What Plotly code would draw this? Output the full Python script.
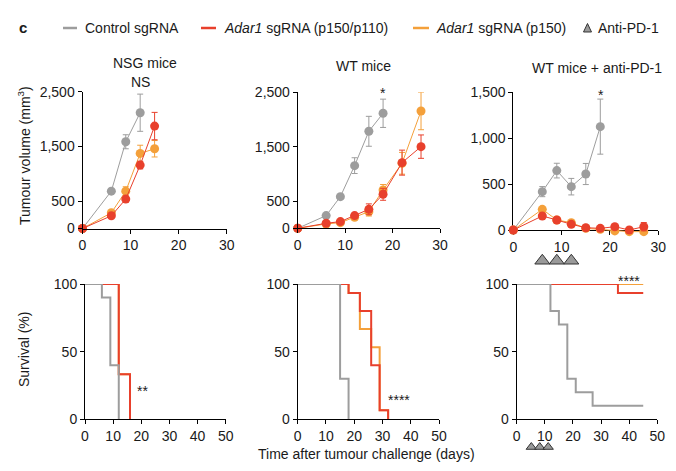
import plotly.graph_objects as go

# page has an 8px body margin: figure is 660x455 placed at (8, 8) inside 676x471
PAGE_W, PAGE_H = 676, 471
OFF = 8
W, H = PAGE_W - 2 * OFF, PAGE_H - 2 * OFF
GRAY = "#9d9d9d"
RED = "#e8402c"
ORANGE = "#f4a03a"
FONT = "Liberation Sans, Arial, sans-serif"
TXT = "#1a1a1a"

# ---------------- data ----------------
# Tumour growth: NSG mice
nsg_ctrl_days = [0, 6, 9, 12]
nsg_ctrl_vol = [0, 683, 1585, 2116]
nsg_ctrl_err = [0, 30, 128, 340]
nsg_p150p110_days = [0, 6, 9, 12, 15]
nsg_p150p110_vol = [0, 232, 537, 1159, 1872]
nsg_p150p110_err = [0, 30, 50, 70, 250]
nsg_p150_days = [0, 6, 9, 12, 15]
nsg_p150_vol = [0, 287, 683, 1372, 1457]
nsg_p150_err = [0, 30, 80, 150, 150]

# Tumour growth: WT mice
wt_ctrl_days = [0, 6, 9, 12, 15, 18]
wt_ctrl_vol = [0, 233, 582, 1152, 1783, 2114]
wt_ctrl_err = [0, 20, 30, 145, 275, 260]
wt_p150p110_days = [0, 6, 9, 12, 15, 18, 22, 26]
wt_p150p110_vol = [0, 92, 123, 233, 349, 625, 1207, 1501]
wt_p150p110_err = [0, 15, 20, 30, 100, 110, 230, 215]
wt_p150_days = [0, 6, 9, 12, 15, 18, 22, 26]
wt_p150_vol = [0, 80, 104, 202, 306, 705, 1195, 2157]
wt_p150_err = [0, 15, 20, 30, 80, 100, 200, 345]

# Tumour growth: WT mice + anti-PD-1
pd1_ctrl_days = [0, 6, 9, 12, 15, 18]
pd1_ctrl_vol = [0, 418, 647, 472, 610, 1126]
pd1_ctrl_err = [0, 55, 80, 90, 115, 300]
pd1_p150p110_days = [0, 6, 9, 12, 15, 18, 21, 24, 27]
pd1_p150p110_vol = [0, 153, 109, 62, 25, 18, 36, 0, 36]
pd1_p150p110_err = [0, 20, 15, 15, 10, 10, 20, 10, 45]
pd1_p150_days = [0, 6, 9, 12, 15, 18, 21, 24, 27]
pd1_p150_vol = [0, 225, 109, 80, 18, 7, -10, -18, -18]
pd1_p150_err = [0, 20, 15, 15, 10, 10, 10, 10, 10]
pd1_dose_days = [6, 9, 12]

# Survival (Kaplan-Meier steps): NSG
s_nsg_ctrl_t = [0, 6, 9, 12]
s_nsg_ctrl_s = [100, 90, 40, 0]
s_nsg_p150p110_t = [0, 12, 16]
s_nsg_p150p110_s = [100, 33.3, 0]
s_nsg_p150_t = [0, 12, 16]
s_nsg_p150_s = [100, 33.3, 0]

# Survival: WT
s_wt_ctrl_t = [0, 15, 18]
s_wt_ctrl_s = [100, 30, 0]
s_wt_p150p110_t = [0, 18, 22, 26, 29, 32]
s_wt_p150p110_s = [100, 93.3, 80, 40, 6.7, 0]
s_wt_p150_t = [0, 18, 22, 26, 29, 32]
s_wt_p150_s = [100, 93.3, 66.7, 53.3, 6.7, 0]

# Survival: WT + anti-PD-1
s_pd1_ctrl_t = [0, 12, 15, 18, 21, 27, 45]
s_pd1_ctrl_s = [100, 80, 70, 30, 20, 10, 10]
s_pd1_p150p110_t = [0, 36, 45]
s_pd1_p150p110_s = [100, 93.3, 93.3]
s_pd1_p150_t = [0, 45]
s_pd1_p150_s = [100, 100]

legend_labels = ["Control sgRNA", "<i>Adar1</i> sgRNA (p150/p110)",
                 "<i>Adar1</i> sgRNA (p150)", "Anti-PD-1"]

# ---------------- layout helpers (page pixel -> paper fraction) ----------------
def px(x):
    return (x - OFF) / W

def py(y):
    return 1 - (y - OFF) / H

# name: (x0, x1, ytop, ybottom) in page pixels, plus axis ranges
panels = {
    "1": (82.5, 226.7, 91.7, 228.5),
    "2": (297.7, 440.0, 92.3, 228.3),
    "3": (513.3, 658.3, 92.3, 230.0),
    "4": (85.0, 225.7, 284.0, 419.3),
    "5": (297.7, 439.0, 284.0, 419.3),
    "6": (516.7, 657.3, 284.0, 419.3),
}
specs = {
    "1": ([0, 30], [0, 10, 20, 30], [0, 2500], [0, 500, 1500, 2500], ["0", "500", "1,500", "2,500"]),
    "2": ([0, 30], [0, 10, 20, 30], [0, 2500], [0, 500, 1500, 2500], ["0", "500", "1,500", "2,500"]),
    "3": ([0, 30], [0, 10, 20, 30], [0, 1500], [0, 500, 1000, 1500], ["0", "500", "1,000", "1,500"]),
    "4": ([0, 50], [0, 10, 20, 30, 40, 50], [0, 100], [0, 50, 100], ["0", "50", "100"]),
    "5": ([0, 50], [0, 10, 20, 30, 40, 50], [0, 100], [0, 50, 100], ["0", "50", "100"]),
    "6": ([0, 50], [0, 10, 20, 30, 40, 50], [0, 100], [0, 50, 100], ["0", "50", "100"]),
}
# hidden helper subplots that share the scale of a visible panel but reach further down
# (so marks below the zero line, e.g. dosing triangles, are still drawn)
helpers = {"7": ("3", 280.0), "8": ("6", 458.0)}

def ax(axn):
    return ("x", "y") if axn == "1" else ("x" + axn, "y" + axn)

fig = go.Figure()

def growth(axn, days, vol, err, color):
    xa, ya = ax(axn)
    fig.add_trace(go.Scatter(
        x=days, y=vol, mode="lines+markers",
        line=dict(color=color, width=1),
        marker=dict(color=color, size=9, line=dict(width=0)),
        error_y=dict(type="data", array=err, color=color, thickness=1, width=3),
        xaxis=xa, yaxis=ya, cliponaxis=False, showlegend=False,
        hoverinfo="skip"))

def surv(axn, t, s, color):
    xa, ya = ax(axn)
    fig.add_trace(go.Scatter(
        x=t, y=s, mode="lines", line=dict(color=color, width=2, shape="hv"),
        xaxis=xa, yaxis=ya, cliponaxis=False, showlegend=False,
        hoverinfo="skip"))

growth("1", nsg_ctrl_days, nsg_ctrl_vol, nsg_ctrl_err, GRAY)
growth("1", nsg_p150_days, nsg_p150_vol, nsg_p150_err, ORANGE)
growth("1", nsg_p150p110_days, nsg_p150p110_vol, nsg_p150p110_err, RED)

growth("2", wt_ctrl_days, wt_ctrl_vol, wt_ctrl_err, GRAY)
growth("2", wt_p150_days, wt_p150_vol, wt_p150_err, ORANGE)
growth("2", wt_p150p110_days, wt_p150p110_vol, wt_p150p110_err, RED)

# invisible anchor trace so the visible anti-PD-1 axes are created
fig.add_trace(go.Scatter(
    x=pd1_ctrl_days[:1], y=pd1_ctrl_vol[:1], mode="markers",
    marker=dict(opacity=0, size=1), xaxis="x3", yaxis="y3",
    showlegend=False, hoverinfo="skip"))

# anti-PD-1 panel drawn on its hidden helper subplot (same scale, deeper domain)
growth("7", pd1_ctrl_days, pd1_ctrl_vol, pd1_ctrl_err, GRAY)
growth("7", pd1_p150_days, pd1_p150_vol, pd1_p150_err, ORANGE)
growth("7", pd1_p150p110_days, pd1_p150p110_vol, pd1_p150p110_err, RED)

surv("4", s_nsg_p150_t, s_nsg_p150_s, ORANGE)
surv("4", s_nsg_p150p110_t, s_nsg_p150p110_s, RED)
surv("4", s_nsg_ctrl_t, s_nsg_ctrl_s, GRAY)

surv("5", s_wt_p150_t, s_wt_p150_s, ORANGE)
surv("5", s_wt_p150p110_t, s_wt_p150p110_s, RED)
surv("5", s_wt_ctrl_t, s_wt_ctrl_s, GRAY)

surv("6", s_pd1_p150_t, s_pd1_p150_s, ORANGE)
surv("6", s_pd1_p150p110_t, s_pd1_p150p110_s, RED)
surv("6", s_pd1_ctrl_t, s_pd1_ctrl_s, GRAY)

# anti-PD-1 dosing triangles
fig.add_trace(go.Scatter(
    x=pd1_dose_days, y=[-335] * len(pd1_dose_days), mode="markers",
    marker=dict(symbol="triangle-up", size=13, color="#9a9a9a",
                line=dict(color="#333333", width=1)),
    xaxis="x7", yaxis="y7", cliponaxis=False, showlegend=False, hoverinfo="skip"))
fig.add_trace(go.Scatter(
    x=[d - 0.8 for d in pd1_dose_days], y=[-20.5] * len(pd1_dose_days), mode="markers",
    marker=dict(symbol="triangle-up", size=9, color="#9a9a9a",
                line=dict(color="#333333", width=1)),
    xaxis="x8", yaxis="y8", cliponaxis=False, showlegend=False, hoverinfo="skip"))

tickfont = dict(family=FONT, size=14, color=TXT)
common = dict(showline=True, linecolor="black", linewidth=1,
              ticks="outside", ticklen=4, tickcolor="black", tickwidth=1,
              showgrid=False, zeroline=False, tickfont=tickfont,
              fixedrange=True, automargin=False)

layout_axes = {}
for k, (xr, xt, yr, yt, ytl) in specs.items():
    x0, x1, yt_px, yb_px = panels[k]
    xa_n, ya_n = ax(k)
    sfx = "" if k == "1" else k
    layout_axes["xaxis" + sfx] = dict(domain=[px(x0), px(x1)], range=xr, tickvals=xt,
                                      ticktext=[str(v) for v in xt], anchor=ya_n, **common)
    layout_axes["yaxis" + sfx] = dict(domain=[py(yb_px), py(yt_px)], range=yr, tickvals=yt,
                                      ticktext=ytl, anchor=xa_n, **common)

for k, (base, new_bottom) in helpers.items():
    x0, x1, yt_px, yb_px = panels[base]
    xr, _, yr, _, _ = specs[base]
    per_px = (yr[1] - yr[0]) / (yb_px - yt_px)
    new_lo = yr[0] - (new_bottom - yb_px) * per_px
    layout_axes["xaxis" + k] = dict(domain=[px(x0), px(x1)], range=xr, visible=False,
                                    anchor="y" + k, fixedrange=True, automargin=False)
    layout_axes["yaxis" + k] = dict(domain=[py(new_bottom), py(yt_px)], range=[new_lo, yr[1]],
                                    visible=False, anchor="x" + k, fixedrange=True,
                                    automargin=False)

annotations = []

def text(x, y, s, size=14, xanchor="center", yanchor="middle", angle=0, bold=False):
    annotations.append(dict(
        x=px(x), y=py(y), xref="paper", yref="paper", text=("<b>%s</b>" % s) if bold else s,
        showarrow=False, xanchor=xanchor, yanchor=yanchor, textangle=angle,
        font=dict(family=FONT, size=size, color=TXT)))

def dtext(axn, x, y, s, size=14):
    xa, ya = ax(axn)
    annotations.append(dict(
        x=x, y=y, xref=xa, yref=ya, text=s, showarrow=False,
        xanchor="center", yanchor="middle",
        font=dict(family=FONT, size=size, color=TXT)))

# panel titles
text(145, 63.3, "NSG mice")
text(363, 66, "WT mice")
text(596.7, 68.3, "WT mice + anti-PD-1")

# significance
text(140.7, 82, "NS")
text(382.7, 93, "*")
text(600.7, 94.5, "*")
text(629.3, 281, "****")
dtext("4", 20.5, 21, "**")
dtext("5", 36, 14, "****")

# axis titles
text(24, 156, "Tumour volume (mm<sup>3</sup>)", angle=-90)
text(24, 350, "Survival (%)", angle=-90)
text(366.5, 454, "Time after tumour challenge (days)")

# legend
text(17, 28, "c", size=15, xanchor="left", bold=True)
legend_items = [(63, 77, GRAY, 83), (201, 216, RED, 222), (413, 429, ORANGE, 434)]
shapes = []
for (lx0, lx1, col, tx), lab in zip(legend_items, legend_labels[:3]):
    shapes.append(dict(type="line", xref="paper", yref="paper",
                       x0=px(lx0), x1=px(lx1), y0=py(28), y1=py(28),
                       line=dict(color=col, width=2.5)))
    text(tx, 28, lab, xanchor="left")
tx0, tx1, tcx = 583.5, 591.5, 587.5
shapes.append(dict(type="path", xref="paper", yref="paper",
                   path="M %f,%f L %f,%f L %f,%f Z" % (px(tx0), py(32), px(tx1), py(32), px(tcx), py(23.5)),
                   fillcolor="#9a9a9a", line=dict(color="#333333", width=1)))
text(596, 28, legend_labels[3], xanchor="left")

fig.update_layout(
    width=W, height=H, margin=dict(l=0, r=0, t=0, b=0, autoexpand=False),
    paper_bgcolor="white", plot_bgcolor="rgba(0,0,0,0)",
    annotations=annotations, shapes=shapes, showlegend=False,
    font=dict(family=FONT, size=14, color=TXT),
    **layout_axes)

fig.write_html("out.html")
